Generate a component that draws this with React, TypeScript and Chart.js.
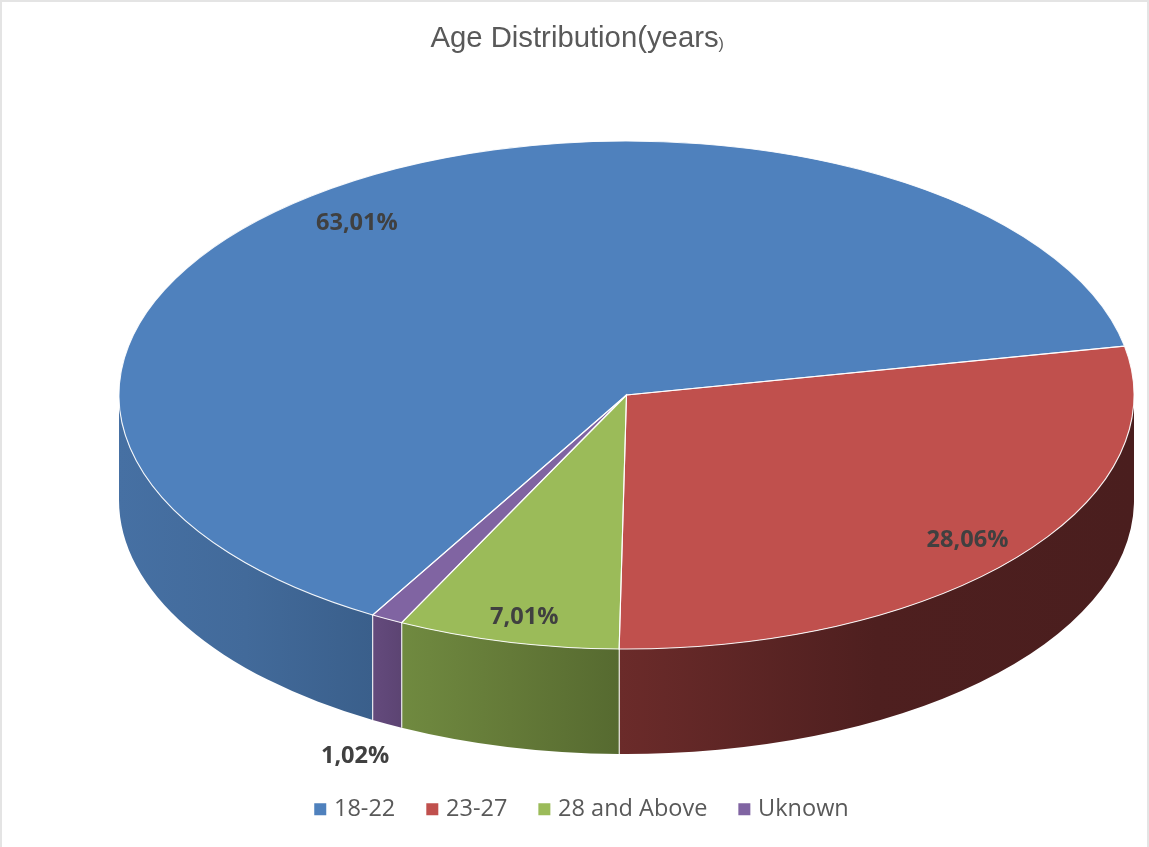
import React, { useEffect, useRef } from "react";
import { Chart, registerables } from "chart.js";

Chart.register(...registerables);

// Chart content
const categories = ["18-22", "23-27", "28 and Above", "Uknown"];
const shares = [63.01, 28.06, 7.01, 1.02];
const titleText = "Age Distribution(years";
const titleTail = ")";

// Slice styling
const topColors = ["#4F81BD", "#C0504D", "#9BBB59", "#8064A2"];
const wallStops = [
  ["#4670A3", "#426A9A", "#3A5F8B"],
  ["#6B2B2A", "#4E1F1F", "#4A1E1E"],
  ["#708A40", "#647A38", "#566A30"],
  ["#644A7C", "#604778", "#5C4472"],
];

// Label placement: radial fraction of the disc and angular nudge from the slice middle
const labelRadius = [0.86, 0.883, 0.898, 1.52];
const labelNudgeDeg = [-2.6, 0.6, -0.6, -7.55];

// Projected disc geometry in canvas pixels
const disc = { cx: 626.5, cy: 395, rx: 507.5, ry: 254, depth: 105 };
const titleFontSize = 29.3;
const legendShift = 9;
const TAU = Math.PI * 2;

const formatShare = (v: number) => `${v.toFixed(2).replace(".", ",")}%`;

const arcProps = (chart: any) =>
  chart.getDatasetMeta(0).data.map((el: any) => el.getProps(["x", "y", "startAngle", "endAngle", "outerRadius"], true));

// Frame around the drawing area
const framePlugin = {
  id: "frame",
  beforeDraw(chart: any) {
    const { ctx, width, height } = chart;
    ctx.save();
    ctx.fillStyle = "#FFFFFF";
    ctx.fillRect(0, 0, width, height);
    ctx.fillStyle = "#E4E4E4";
    ctx.fillRect(0, 0, width, 2);
    ctx.fillRect(0, 0, 2, height);
    ctx.fillRect(width - 2, 0, 2, height);
    ctx.restore();
  },
};

// Nudges the legend sideways without moving the title
const legendOffsetPlugin = {
  id: "legendOffset",
  afterLayout(chart: any) {
    chart.legend.left += legendShift;
    chart.legend.right += legendShift;
  },
};

// Extruded rim under the front half of the disc
const wallPlugin = {
  id: "wall",
  beforeDatasetsDraw(chart: any) {
    const { ctx } = chart;
    const { cx, cy, rx, ry, depth } = disc;
    arcProps(chart).forEach((arc: any, i: number) => {
      for (let k = 0; k < 2; k++) {
        const s = Math.max(arc.startAngle, k * TAU);
        const e = Math.min(arc.endAngle, k * TAU + Math.PI);
        if (e <= s) continue;
        const xs = cx + rx * Math.cos(s);
        const xe = cx + rx * Math.cos(e);
        const grad = ctx.createLinearGradient(Math.min(xs, xe), 0, Math.max(xs, xe), 0);
        const stops = wallStops[i];
        grad.addColorStop(0, stops[0]);
        grad.addColorStop(0.5, stops[1]);
        grad.addColorStop(1, stops[2]);
        ctx.beginPath();
        ctx.ellipse(cx, cy, rx, ry, 0, s, e);
        ctx.ellipse(cx, cy + depth, rx, ry, 0, e, s, true);
        ctx.closePath();
        ctx.fillStyle = grad;
        ctx.fill();
        // Vertical seams where a slice meets its neighbour on the rim
        ctx.strokeStyle = "rgba(255,255,255,0.85)";
        ctx.lineWidth = 1;
        [arc.startAngle, arc.endAngle].forEach((a: number) => {
          const n = ((a % TAU) + TAU) % TAU;
          if (n > 0.01 && n < Math.PI - 0.01) {
            const x = cx + rx * Math.cos(n);
            const y = cy + ry * Math.sin(n);
            ctx.beginPath();
            ctx.moveTo(x, y);
            ctx.lineTo(x, y + depth);
            ctx.stroke();
          }
        });
      }
    });
  },
};

// Squashes the library's round pie onto the tilted disc
const projectionPlugin = {
  id: "projection",
  beforeDatasetDraw(chart: any) {
    const [arc] = arcProps(chart);
    const { ctx } = chart;
    ctx.save();
    ctx.translate(disc.cx, disc.cy);
    ctx.scale(disc.rx / arc.outerRadius, disc.ry / arc.outerRadius);
    ctx.translate(-arc.x, -arc.y);
  },
  afterDatasetDraw(chart: any) {
    chart.ctx.restore();
  },
};

// Slice outlines, value labels and the small closing bracket of the title
const overlayPlugin = {
  id: "overlay",
  afterDraw(chart: any) {
    const { ctx, width } = chart;
    const { cx, cy, rx, ry } = disc;
    const arcs = arcProps(chart);
    ctx.save();
    ctx.strokeStyle = "rgba(255,255,255,0.9)";
    ctx.lineWidth = 1.1;
    arcs.forEach((arc: any) => {
      ctx.beginPath();
      ctx.moveTo(cx, cy);
      ctx.ellipse(cx, cy, rx, ry, 0, arc.startAngle, arc.endAngle);
      ctx.closePath();
      ctx.stroke();
    });

    ctx.font = "bold 23.6px 'Open Sans'";
    ctx.fillStyle = "#404040";
    ctx.textAlign = "center";
    ctx.textBaseline = "middle";
    arcs.forEach((arc: any, i: number) => {
      const mid = (arc.startAngle + arc.endAngle) / 2 + (labelNudgeDeg[i] * Math.PI) / 180;
      const x = cx + rx * labelRadius[i] * Math.cos(mid);
      const y = cy + ry * labelRadius[i] * Math.sin(mid);
      ctx.fillText(formatShare(shares[i]), x, y);
    });

    ctx.font = `${titleFontSize}px 'Liberation Sans'`;
    const w = ctx.measureText(titleText).width;
    const tailX = width / 2 + w / 2;
    ctx.font = "16px 'Liberation Sans'";
    ctx.fillStyle = "#595959";
    ctx.textAlign = "left";
    ctx.textBaseline = "alphabetic";
    ctx.fillText(titleTail, tailX, 49);
    ctx.restore();
  },
};

export default function App() {
  const ref = useRef<HTMLCanvasElement>(null);

  useEffect(() => {
    document.body.style.margin = "0";
    const chart = new Chart(ref.current!, {
      type: "pie",
      data: {
        labels: categories,
        datasets: [
          {
            data: shares,
            backgroundColor: topColors,
            borderWidth: 0,
          },
        ],
      },
      options: {
        responsive: false,
        animation: false,
        events: [],
        rotation: 210,
        layout: { padding: { bottom: 16 } },
        plugins: {
          title: {
            display: true,
            text: titleText,
            color: "#595959",
            font: { family: "'Liberation Sans'", size: titleFontSize, weight: "normal" },
            padding: { top: 21, bottom: 10 },
          },
          legend: {
            position: "bottom",
            labels: {
              color: "#595959",
              font: { family: "'Open Sans'", size: 23.5 },
              usePointStyle: true,
              pointStyle: "rect",
              boxWidth: 4,
              boxHeight: 12,
              padding: 35,
            },
          },
          tooltip: { enabled: false },
        },
      },
      plugins: [framePlugin, legendOffsetPlugin, wallPlugin, projectionPlugin, overlayPlugin],
    } as any);
    return () => chart.destroy();
  }, []);

  return <canvas ref={ref} width={1149} height={847} style={{ display: "block" }} />;
}
